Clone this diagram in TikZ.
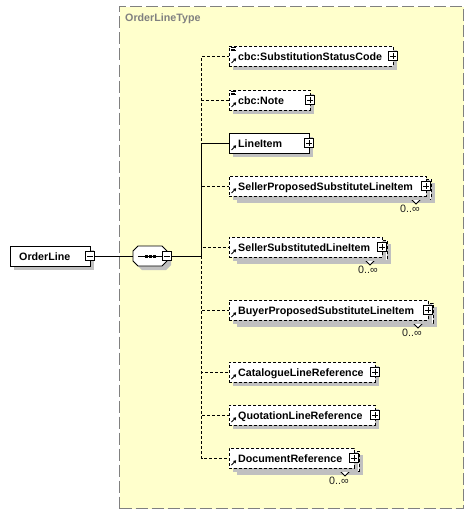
\documentclass[tikz,border=0pt]{standalone}
\usepackage{fontspec}
\setmainfont{Liberation Sans}
\usetikzlibrary{arrows.meta}
\definecolor{ybg}{HTML}{FFFFCC}
\definecolor{ybd}{HTML}{808080}
\definecolor{shd}{HTML}{C0C0C0}
\definecolor{multc}{HTML}{202020}
\tikzset{
  lbl/.style={font=\fontsize{10.7}{12}\selectfont\bfseries, inner sep=0pt, text=black, anchor=base west},
  ebox/.style={draw, fill=white, line width=0.8pt, minimum height=20pt, inner sep=0pt, anchor=north west},
  opt/.style={dash pattern=on 3pt off 2pt},
  conn/.style={line width=0.8pt},
  refarrow/.style={line width=0.9pt,-{Triangle[length=2.6pt,width=3.2pt]}},
  multl/.style={font=\fontsize{10.7}{12}\selectfont, inner sep=0pt, text=multc},
  plusbox/.style={draw, fill=white, line width=0.8pt, minimum size=9pt, inner sep=0pt,
    path picture={\draw[line width=0.8pt] ([xshift=-2.8pt]path picture bounding box.center) -- ([xshift=2.8pt]path picture bounding box.center);
                  \draw[line width=0.8pt] ([yshift=-2.8pt]path picture bounding box.center) -- ([yshift=2.8pt]path picture bounding box.center);}},
  minusbox/.style={draw, fill=white, line width=0.8pt, minimum size=9pt, inner sep=0pt,
    path picture={\draw[line width=0.8pt] ([xshift=-2.8pt]path picture bounding box.center) -- ([xshift=2.8pt]path picture bounding box.center);}}
}
% single element: name, left, top, right, text, style
\newcommand\xel[6]{%
  \fill[shd] ({#2+4},{#3+4}) rectangle ({#4+4},{#3+24});
  \node[ebox,#6,minimum width={#4-#2}] (#1) at (#2,#3) {};
  \node[lbl] (#1t) at ({#2+9},{#3+14}) {#5};
  \node[plusbox] (#1p) at (#4,{#3+10}) {};
  \draw[refarrow] ({#2+2.5},{#3+17}) -- ({#2+7.2},{#3+12.3});
}
% multiple element: name, left, top, right, text, style, notch x, mult x
\newcommand\xmel[8]{%
  \fill[shd] ({#2+8},{#3+7}) rectangle ({#4+9},{#3+27});
  \draw[opt,fill=white,line width=0.8pt] ({#2+4},{#3+3}) rectangle ({#4+5},{#3+23});
  \filldraw[fill=white,line width=0.8pt] ({#7-5},{#3+23}) -- (#7,{#3+28}) -- ({#7+5},{#3+23});
  \xel{#1}{#2}{#3}{#4}{#5}{#6}
  \node[multl] (#1m) at (#8,{#3+33}) {0..∞};
}
\newcommand\cbcicon[2]{%
  \draw[line width=0.7pt] ({#1+2},{#2+1.2}) -- ++(5,0) ({#1+2},{#2+3}) -- ++(4,0) ({#1+2},{#2+4.8}) -- ++(5,0);
}
\newcommand\octpath[4]{% left top right bottom
  ({#1+5},#2) -- ({#3-5},#2) -- (#3,{#2+5}) -- (#3,{#4-5}) -- ({#3-5},#4) -- ({#1+5},#4) -- (#1,{#4-5}) -- (#1,{#2+5}) -- cycle
}
\begin{document}
\begin{tikzpicture}[x=1pt,y=-1pt]
\useasboundingbox (0,0) rectangle (473,514);
\fill[white] (0,0) rectangle (473,514);
% complex type box
\node[draw=ybd, fill=ybg, dash pattern=on 12pt off 4pt, line width=1pt, anchor=north west,
      minimum width=344pt, minimum height=502pt, inner sep=0pt] (type) at (119,6) {};
\node[lbl, text=ybd] (typel) at (125,21.5) {OrderLineType};
% OrderLine
\fill[shd] (14,250) rectangle (94,270);
\node[ebox, minimum width=80pt] (ol) at (10,246) {};
\node[lbl] (olt) at (19,260) {OrderLine};
\node[minusbox] (olp) at (90,256) {};
% sequence
\fill[shd] \octpath{137}{250}{171}{270};
\filldraw[fill=white, line width=0.8pt] \octpath{133}{246}{167}{266};
\node[draw=none, minimum width=34pt, minimum height=20pt, inner sep=0pt] (seq) at (150,256) {};
\draw[line width=0.8pt] ([xshift=-12pt]seq.center) -- ([xshift=12pt]seq.center);
\foreach \dx in {-4,0,4} \fill ([xshift=\dx pt]seq.center) +(-1.5,-1.5) rectangle +(1.5,1.5);
\node[minusbox] (seqm) at (167,256) {};
\coordinate (J) at (201.5,256);
% children
\xel{ssc}{229}{46}{393}{cbc:SubstitutionStatusCode}{opt}
\cbcicon{229}{46}
\xel{note}{229}{90}{310}{cbc:Note}{opt}
\cbcicon{229}{90}
\xel{li}{229}{133}{309}{LineItem}{}
\xmel{spsli}{229}{176}{426}{SellerProposedSubstituteLineItem}{opt}{416}{410}
\xmel{ssli}{229}{237}{382}{SellerSubstitutedLineItem}{opt}{370}{368}
\xmel{bpsli}{229}{300}{428}{BuyerProposedSubstituteLineItem}{opt}{418}{412}
\xel{clr}{229}{362}{375}{CatalogueLineReference}{opt}
\xel{qlr}{229}{405}{375}{QuotationLineReference}{opt}
\xmel{dr}{229}{448}{354}{DocumentReference}{opt}{345}{339}
% connectors
\draw[conn] (olp.east) -- (seq.west);
\draw[conn] (seqm.east) -- (J);
\foreach \n in {ssc,note,spsli,ssli,bpsli,clr,qlr,dr} \draw[conn,opt] (J) |- (\n.west);
\draw[conn] (J) |- (li.west);
\end{tikzpicture}
\end{document}
